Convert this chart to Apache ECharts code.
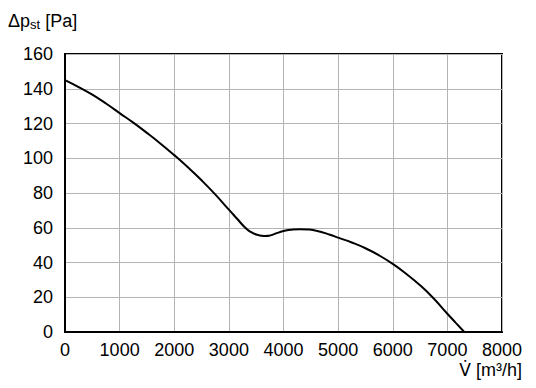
<!DOCTYPE html>
<html><head><meta charset="utf-8">
<script src="https://cdn.jsdelivr.net/npm/echarts@6/dist/echarts.min.js"></script>
<style>html,body{margin:0;padding:0;background:#fff}#c{width:536px;height:388px}</style>
</head><body><div id="c"></div>
<script>
const flowRate = [0, 250, 500, 750, 1000, 1250, 1500, 1750, 2000, 2250, 2500, 2750, 3000, 3150, 3300, 3400, 3500, 3600, 3670, 3750, 3850, 4000, 4150, 4300, 4450, 4600, 4850, 5000, 5250, 5500, 5750, 6000, 6250, 6500, 6750, 7000, 7150, 7310];
const pressure = [145, 141, 136.6, 131.5, 126, 120.5, 114.6, 108.4, 101.8, 94.8, 87.3, 79.2, 70.4, 65.2, 60, 57.6, 56.1, 55.4, 55.2, 55.5, 56.6, 58.1, 58.9, 59.2, 59, 58.3, 56, 54.3, 51.5, 48.2, 44.1, 39.2, 33.4, 26.9, 19.3, 10.5, 5.4, 0];
const xTicks = [0, 1000, 2000, 3000, 4000, 5000, 6000, 7000, 8000];
const yTicks = [0, 20, 40, 60, 80, 100, 120, 140, 160];
const yName = 'Δp';
const yNameSub = 'st';
const yNameUnit = ' [Pa]';
const xNameSym = 'V̇';
const xNameUnit = ' [m³/h]';

const font = 'Liberation Sans, Arial, sans-serif';
const chart = echarts.init(document.getElementById('c'), null, {renderer: 'svg'});
chart.setOption({
  animation: false,
  grid: {left: 65, right: 34, top: 54, bottom: 56, show: true, borderColor: '#000', borderWidth: 2, containLabel: false},
  xAxis: {
    type: 'value', min: xTicks[0], max: xTicks[xTicks.length - 1], interval: xTicks[1] - xTicks[0],
    axisLine: {show: true, lineStyle: {color: '#000', width: 2}},
    axisTick: {show: false},
    splitLine: {show: true, lineStyle: {color: '#b4b4b4', width: 1}},
    axisLabel: {color: '#000', fontFamily: font, fontSize: 18, margin: 9, formatter: v => String(v)}
  },
  yAxis: {
    type: 'value', min: yTicks[0], max: yTicks[yTicks.length - 1], interval: yTicks[1] - yTicks[0],
    axisLine: {show: true, lineStyle: {color: '#000', width: 2}},
    axisTick: {show: false},
    splitLine: {show: true, lineStyle: {color: '#b4b4b4', width: 1}},
    axisLabel: {color: '#000', fontFamily: font, fontSize: 18, margin: 12, formatter: v => String(v)}
  },
  graphic: [
    {type: 'text', left: 8, top: 12, style: {
      text: '{a|' + yName + '}{s|' + yNameSub + '}{a|' + yNameUnit + '}',
      rich: {
        a: {fontFamily: font, fontSize: 18, fill: '#000'},
        s: {fontFamily: font, fontSize: 13, fill: '#000', verticalAlign: 'bottom', padding: [6, 0, 0, 0]}
      }
    }},
    {type: 'text', right: 14, top: 361, style: {
      text: '{v|' + xNameSym + '}{a|' + xNameUnit + '}',
      rich: {
        v: {fontFamily: 'DejaVu Sans, Noto Sans, sans-serif', fontSize: 17, fill: '#000'},
        a: {fontFamily: font, fontSize: 18, fill: '#000'}
      }
    }}
  ],
  series: [{
    type: 'line', data: flowRate.map((x, i) => [x, pressure[i]]),
    smooth: 0.5, showSymbol: false, symbol: 'none',
    lineStyle: {color: '#000', width: 2}
  }]
});
</script></body></html>
